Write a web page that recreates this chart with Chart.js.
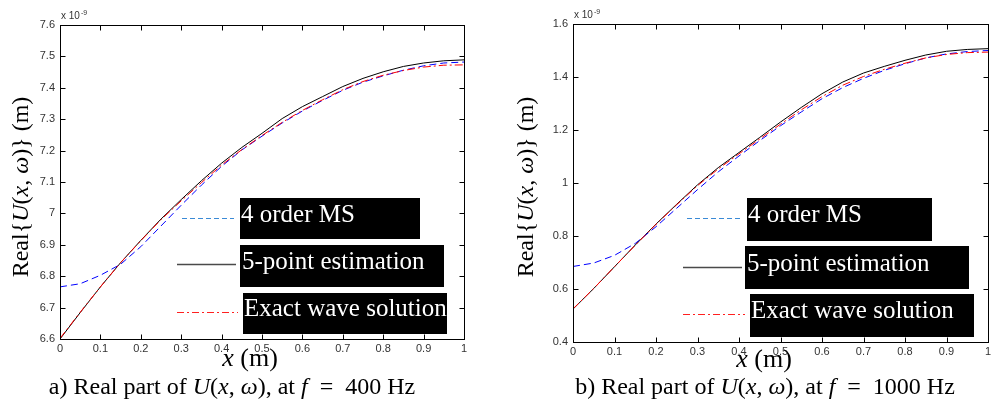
<!DOCTYPE html>
<html>
<head>
<meta charset="utf-8">
<title>Real part of U(x, ω)</title>
<script src="https://cdn.jsdelivr.net/npm/chart.js@4.4.1/dist/chart.umd.min.js"></script>
<style>
  html, body { margin: 0; padding: 0; background: #fff; }
  #wrap { position: relative; width: 995px; height: 402px; overflow: hidden; }
  canvas { position: absolute; top: 0; }
  #c400 { left: 0; }
  #c1000 { left: 500px; }
</style>
</head>
<body>
<div id="wrap">
  <canvas id="c400" width="500" height="402"></canvas>
  <canvas id="c1000" width="495" height="402"></canvas>
</div>
<script>
// positions along the bar (m)
const xPts = [0, 0.05, 0.1, 0.15, 0.2, 0.25, 0.3, 0.35, 0.4, 0.45, 0.5, 0.55, 0.6, 0.65, 0.7, 0.75, 0.8, 0.85, 0.9, 0.95, 1];

// f = 400 Hz, values in units of 1e-9 m
const ms400     = [6.766, 6.776, 6.803, 6.838, 6.894, 6.960, 7.026, 7.090, 7.150, 7.202, 7.246, 7.288, 7.326, 7.360, 7.392, 7.418, 7.438, 7.456, 7.470, 7.479, 7.482];
const fivePt400 = [6.600, 6.684, 6.766, 6.843, 6.914, 6.982, 7.044, 7.104, 7.160, 7.210, 7.255, 7.302, 7.340, 7.372, 7.404, 7.430, 7.451, 7.468, 7.479, 7.486, 7.489];
const exact400  = [6.602, 6.685, 6.766, 6.843, 6.913, 6.980, 7.040, 7.098, 7.154, 7.203, 7.248, 7.290, 7.328, 7.362, 7.394, 7.420, 7.440, 7.455, 7.466, 7.472, 7.473];

// f = 1000 Hz, values in units of 1e-9 m
const ms1000     = [0.685, 0.698, 0.727, 0.772, 0.835, 0.905, 0.975, 1.042, 1.102, 1.160, 1.216, 1.268, 1.318, 1.360, 1.395, 1.425, 1.450, 1.472, 1.487, 1.496, 1.500];
const fivePt1000 = [0.524, 0.602, 0.684, 0.766, 0.845, 0.920, 0.993, 1.058, 1.115, 1.172, 1.230, 1.285, 1.337, 1.381, 1.415, 1.440, 1.463, 1.483, 1.497, 1.504, 1.507];
const exact1000  = [0.525, 0.602, 0.684, 0.765, 0.844, 0.918, 0.990, 1.053, 1.110, 1.166, 1.222, 1.276, 1.326, 1.369, 1.402, 1.429, 1.452, 1.472, 1.485, 1.492, 1.494];

// axis ranges [min, max, step]
const xRange = [0, 1, 0.1];
const yRange400 = [6.6, 7.6, 0.1];
const yRange1000 = [0.4, 1.6, 0.2];

const legendNames = ['4 order MS', '5-point estimation', 'Exact wave solution'];

const SERIF = '"Liberation Serif", "Times New Roman", serif';
const SANS = '"Liberation Sans", Arial, sans-serif';

function pairs(ys) {
  return xPts.map((x, i) => ({ x: x, y: ys[i] }));
}

// matlab style tick text: 7.6, 7, 0.4, 1
function tickText(v) {
  return String(Number(v.toFixed(3)));
}

// text made of upright / italic pieces: [text, italic]
function runsWidth(ctx, runs, size) {
  let w = 0;
  runs.forEach(r => {
    ctx.font = (r[1] ? 'italic ' : '') + size + 'px ' + SERIF;
    w += ctx.measureText(r[0]).width;
  });
  return w;
}
function drawRuns(ctx, runs, x, y, size, centered) {
  let cx = centered ? x - runsWidth(ctx, runs, size) / 2 : x;
  ctx.textAlign = 'left';
  ctx.textBaseline = 'alphabetic';
  runs.forEach(r => {
    ctx.font = (r[1] ? 'italic ' : '') + size + 'px ' + SERIF;
    ctx.fillText(r[0], cx, y);
    cx += ctx.measureText(r[0]).width;
  });
}

const yTitleRuns = [['Real{', 0], ['U', 1], ['(', 0], ['x', 1], [', ', 0], ['ω', 1], [')} (m)', 0]];
const xTitleRuns = [['x', 1], [' (m)', 0]];
function captionRuns(tag, freq) {
  return [[tag + ') Real part of ', 0], ['U', 1], ['(', 0], ['x', 1], [', ', 0], ['ω', 1], ['), at ', 0], ['f', 1], ['  =  ' + freq + ' Hz', 0]];
}

function line(ctx, x1, y1, x2, y2) {
  ctx.beginPath();
  ctx.moveTo(x1, y1);
  ctx.lineTo(x2, y2);
  ctx.stroke();
}

// box, inward ticks, exponent, titles, legend and caption
const decorPlugin = {
  id: 'decor',
  afterDraw(chart, args, o) {
    const ctx = chart.ctx;
    const a = chart.chartArea;
    const L = Math.round(a.left) + 0.5, R = Math.round(a.right) + 0.5;
    const T = Math.round(a.top) + 0.5, B = Math.round(a.bottom) + 0.5;
    ctx.save();
    ctx.strokeStyle = '#000';
    ctx.lineWidth = 1;
    ctx.setLineDash([]);
    ctx.strokeRect(L, T, R - L, B - T);

    const tl = 5;
    const xs = chart.scales.x, ys = chart.scales.y;
    xs.ticks.forEach(t => {
      const px = Math.round(xs.getPixelForValue(t.value)) + 0.5;
      line(ctx, px, B, px, B - tl);
      line(ctx, px, T, px, T + tl);
    });
    ys.ticks.forEach(t => {
      const py = Math.round(ys.getPixelForValue(t.value)) + 0.5;
      line(ctx, L, py, L + tl, py);
      line(ctx, R, py, R - tl, py);
    });

    // x 10^-9
    ctx.fillStyle = '#333';
    ctx.textAlign = 'left';
    ctx.textBaseline = 'alphabetic';
    ctx.font = '10px ' + SANS;
    ctx.fillText('x 10', a.left + 1, a.top - 6.5);
    const w10 = ctx.measureText('x 10').width;
    ctx.font = '7px ' + SANS;
    ctx.fillText('-9', a.left + 2 + w10, a.top - 10.5);

    // axis titles
    ctx.fillStyle = '#000';
    ctx.save();
    ctx.translate(o.yTitle[0], o.yTitle[1]);
    ctx.rotate(-Math.PI / 2);
    drawRuns(ctx, yTitleRuns, 0, 0, 24, true);
    ctx.restore();
    drawRuns(ctx, xTitleRuns, o.xTitle[0], o.xTitle[1], 26, true);

    // caption
    drawRuns(ctx, o.caption, o.captionPos[0], o.captionPos[1], 24, true);

    // legend: black boxes with white text, sample line on the left
    const samples = [
      { color: '#3a8ad6', dash: [5, 3], width: 1.2 },
      { color: '#4a4a4a', dash: [], width: 1.4 },
      { color: '#ff2020', dash: [7, 3, 2, 3], width: 1.2 }
    ];
    o.legend.forEach((e, i) => {
      ctx.fillStyle = '#000';
      ctx.fillRect(e.box[0], e.box[1], e.box[2], e.box[3]);
      ctx.strokeStyle = samples[i].color;
      ctx.lineWidth = samples[i].width;
      ctx.setLineDash(samples[i].dash);
      line(ctx, e.line[0], e.line[2], e.line[1], e.line[2]);
      ctx.setLineDash([]);
      ctx.fillStyle = '#fff';
      ctx.font = '25px ' + SERIF;
      ctx.textAlign = 'left';
      ctx.textBaseline = 'alphabetic';
      ctx.fillText(legendNames[i], e.text[0], e.text[1]);
    });
    ctx.restore();
  }
};

function buildChart(id, ms, fivePt, exact, yRange, lay) {
  const common = { borderWidth: 1, pointRadius: 0, tension: 0, fill: false };
  const tickFont = { family: SANS, size: 11 };
  return new Chart(document.getElementById(id), {
    type: 'line',
    data: {
      datasets: [
        Object.assign({ label: legendNames[2], data: pairs(exact), borderColor: '#ff0000', borderDash: [8, 3, 2, 3] }, common),
        Object.assign({ label: legendNames[0], data: pairs(ms), borderColor: '#0000ff', borderDash: [7, 4] }, common),
        Object.assign({ label: legendNames[1], data: pairs(fivePt), borderColor: '#000000' }, common)
      ]
    },
    options: {
      responsive: false,
      animation: false,
      events: [],
      layout: { padding: { left: 0, right: lay.padRight, top: lay.padTop, bottom: 0 } },
      plugins: {
        legend: { display: false },
        tooltip: { enabled: false },
        decor: lay.decor
      },
      scales: {
        x: {
          type: 'linear',
          min: xRange[0], max: xRange[1],
          grid: { display: false, drawTicks: false },
          border: { display: false },
          ticks: { stepSize: xRange[2], padding: 3, maxRotation: 0, autoSkip: false, color: '#333', font: tickFont, callback: tickText },
          afterFit: s => { s.height = lay.xHeight; }
        },
        y: {
          min: yRange[0], max: yRange[1],
          grid: { display: false, drawTicks: false },
          border: { display: false },
          ticks: { stepSize: yRange[2], padding: 5, color: '#333', font: tickFont, callback: tickText },
          afterFit: s => { s.width = lay.yWidth; }
        }
      }
    },
    plugins: [decorPlugin]
  });
}

buildChart('c400', ms400, fivePt400, exact400, yRange400, {
  padRight: 36, padTop: 25, xHeight: 63, yWidth: 60,
  decor: {
    yTitle: [28, 187],
    xTitle: [250, 366],
    caption: captionRuns('a', '400'),
    captionPos: [232, 394],
    legend: [
      { box: [240, 198, 180, 41], line: [182, 234, 218.5], text: [241, 222] },
      { box: [240, 245, 204, 42], line: [177, 236, 264.5], text: [242, 269] },
      { box: [243, 293, 204, 41], line: [177, 238, 312.5], text: [244, 316] }
    ]
  }
});

buildChart('c1000', ms1000, fivePt1000, exact1000, yRange1000, {
  padRight: 7, padTop: 24, xHeight: 60, yWidth: 73,
  decor: {
    yTitle: [33, 187],
    xTitle: [264, 367],
    caption: captionRuns('b', '1000'),
    captionPos: [265, 394],
    legend: [
      { box: [247, 198, 185, 43], line: [187, 240, 218.5], text: [248, 222] },
      { box: [245, 246, 224, 43], line: [183, 242, 267.5], text: [247, 271] },
      { box: [250, 294, 224, 43], line: [183, 245, 314.5], text: [251, 318] }
    ]
  }
});
</script>
</body>
</html>
